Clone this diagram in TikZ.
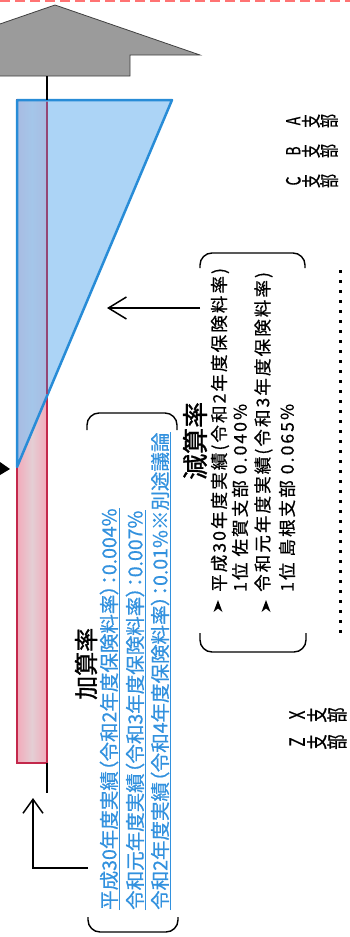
\documentclass[tikz,border=0pt]{standalone}
\usepackage{fontspec}
\newfontfamily\jp{Noto Sans CJK JP}
\newfontfamily\jpbold[FakeBold=1.2]{Noto Sans CJK JP}
\newfontfamily\jpblue[RawFeature=+palt, FakeBold=0.6]{Noto Sans CJK JP}
\newfontfamily\jpls[LetterSpace=12, FakeBold=0.6]{Noto Sans CJK JP}
\newfontfamily\jpnarrow[FakeStretch=0.72, FakeBold=0.6]{Noto Sans CJK JP}
\usetikzlibrary{arrows.meta}
\definecolor{rectfill}{RGB}{243,170,186}
\definecolor{rectmid}{RGB}{228,206,212}
\definecolor{rectline}{RGB}{195,40,75}
\definecolor{trifill}{RGB}{140,195,242}
\definecolor{triline}{RGB}{40,140,215}
\definecolor{arrowgray}{RGB}{155,155,155}
\definecolor{bluetxt}{RGB}{50,145,222}
\begin{document}
\begin{tikzpicture}[x=1pt,y=-1pt,
  conn/.style={line width=1.5pt, black},
  bracketline/.style={line width=1.4pt, black, rounded corners=12pt},
  titletext/.style={rotate=90, anchor=west, inner sep=0pt, font=\jpbold\fontsize{24}{24}\selectfont},
  bline/.style={rotate=90, anchor=west, inner xsep=0pt, inner ysep=1.2pt, text=bluetxt, font=\jpblue\fontsize{19.5}{20}\selectfont},
  uline/.style={bluetxt, line width=1.3pt},
  gline/.style={rotate=90, anchor=west, inner sep=0pt, font=\jpls\fontsize{17.5}{20}\selectfont},
  marker/.style={fill=black},
  branchA/.style={rotate=90, inner sep=0pt, align=center, font=\jpnarrow\fontsize{19.5}{18}\selectfont},
  branchX/.style={rotate=90, inner sep=0pt, align=center, font=\jpnarrow\fontsize{21}{20}\selectfont}
]
\useasboundingbox (0,0) rectangle (350,937);

% faint red dashes at the top edge
\draw[red!55, line width=2pt, dash pattern=on 10pt off 5pt] (0,1) -- (350,1);

% gray arrow pointing up
\begin{scope}
\clip (0,0) rectangle (350,937);
\filldraw[fill=arrowgray, draw=black!75, line width=0.8pt]
  (55,5) -- (200,55) -- (130,55) -- (130,76) -- (-20,76) -- (-20,55) -- (-90,55) -- cycle;
\end{scope}
\coordinate (arrowbase) at (47,76);
\coordinate (bartop) at (47,100);
\coordinate (barbottom) at (47,763);
\coordinate (barend) at (47,793);

% pink bar
\shade[left color=rectfill, right color=rectfill, middle color=rectmid] (17,100) rectangle (47,763);
\draw[rectline, line width=2pt] (17,100) rectangle (47,763);

% blue triangle
\fill[trifill, fill opacity=0.72] (17,100) -- (172,100) -- (17,467) -- cycle;
\draw[triline, line width=2.5pt, line join=round] (17,100) -- (172,100) -- (17,467) -- cycle;
\draw[rectline!70!triline, line width=1.6pt] (47,102) -- (47,394);

% small black marker at the left edge
\fill[black] (0,462) -- (10,469) -- (0,475) -- cycle;

% connectors of the bar
\draw[conn] (arrowbase) -- (bartop);
\draw[conn] (barbottom) -- (barend);

% ---- kasan block
\draw[bracketline] (87,430) -- (87,413) -- (177,413) -- (177,430);
\draw[bracketline] (88,917) -- (88,932) -- (178,932) -- (178,917);
\node[titletext] (ktitle) at (86,700) {加算率};
\node[bline] (b1) at (109,910) {平成30年度実績（令和2年度保険料率）：0.004\%};
\node[bline] (b2) at (135,910) {令和元年度実績（令和3年度保険料率）：0.007\%};
\node[bline] (b3) at (160,910) {令和2年度実績（令和4年度保険料率）：0.01\%※別途議論};
\draw[uline] (b1.south west) -- (b1.south east);
\draw[uline] (b2.south west) -- (b2.south east);
\draw[uline] (b3.south west) -- (b3.south east);
\coordinate (kasanleft) at (88,868);
\coordinate (kasancorner) at (33,868);
\coordinate (kasantip) at (33,798);
\draw[conn, -{Straight Barb[length=14pt, width=20pt, line width=1.5pt]}] (kasanleft) -- (kasancorner) -- (kasantip);

% ---- gensan block
\draw[bracketline] (200,268) -- (200,253) -- (305,253) -- (305,268);
\draw[bracketline] (200,633) -- (200,652) -- (306,652) -- (306,633);
\node[titletext, font=\jpbold\fontsize{26}{26}\selectfont] (gtitle) at (195,480) {減算率};
\node[gline] (g1) at (220,592) {平成30年度実績(令和2年度保険料率)};
\node[gline] (g2) at (240,592) {1位 佐賀支部 0.040\%};
\node[gline] (g3) at (263.5,592) {令和元年度実績(令和3年度保険料率)};
\node[gline] (g4) at (287,592) {1位 島根支部 0.065\%};
\fill[marker] (218,600) -- (222.5,612) -- (218,608.5) -- (213.5,612) -- cycle;
\fill[marker] (266,600) -- (270.5,612) -- (266,608.5) -- (261.5,612) -- cycle;
\coordinate (gensanleft) at (200,308);
\coordinate (tripoint) at (107,308);
\draw[conn, -{Straight Barb[length=18pt, width=22pt, line width=1.5pt]}] (gensanleft) -- (tripoint);

% ---- branches
\node[branchA] (bA) at (312,121) {A\\支\\部};
\node[branchA] (bB) at (312,151) {B\\支\\部};
\node[branchA] (bC) at (312,181) {C\\支\\部};
\node[branchX] (bX) at (318,715) {X\\支\\部};
\node[branchX] (bZ) at (318,742) {Z\\支\\部};
\draw[line width=3pt, dash pattern=on 3pt off 7pt] (340,270) -- (340,633);
\end{tikzpicture}
\end{document}
